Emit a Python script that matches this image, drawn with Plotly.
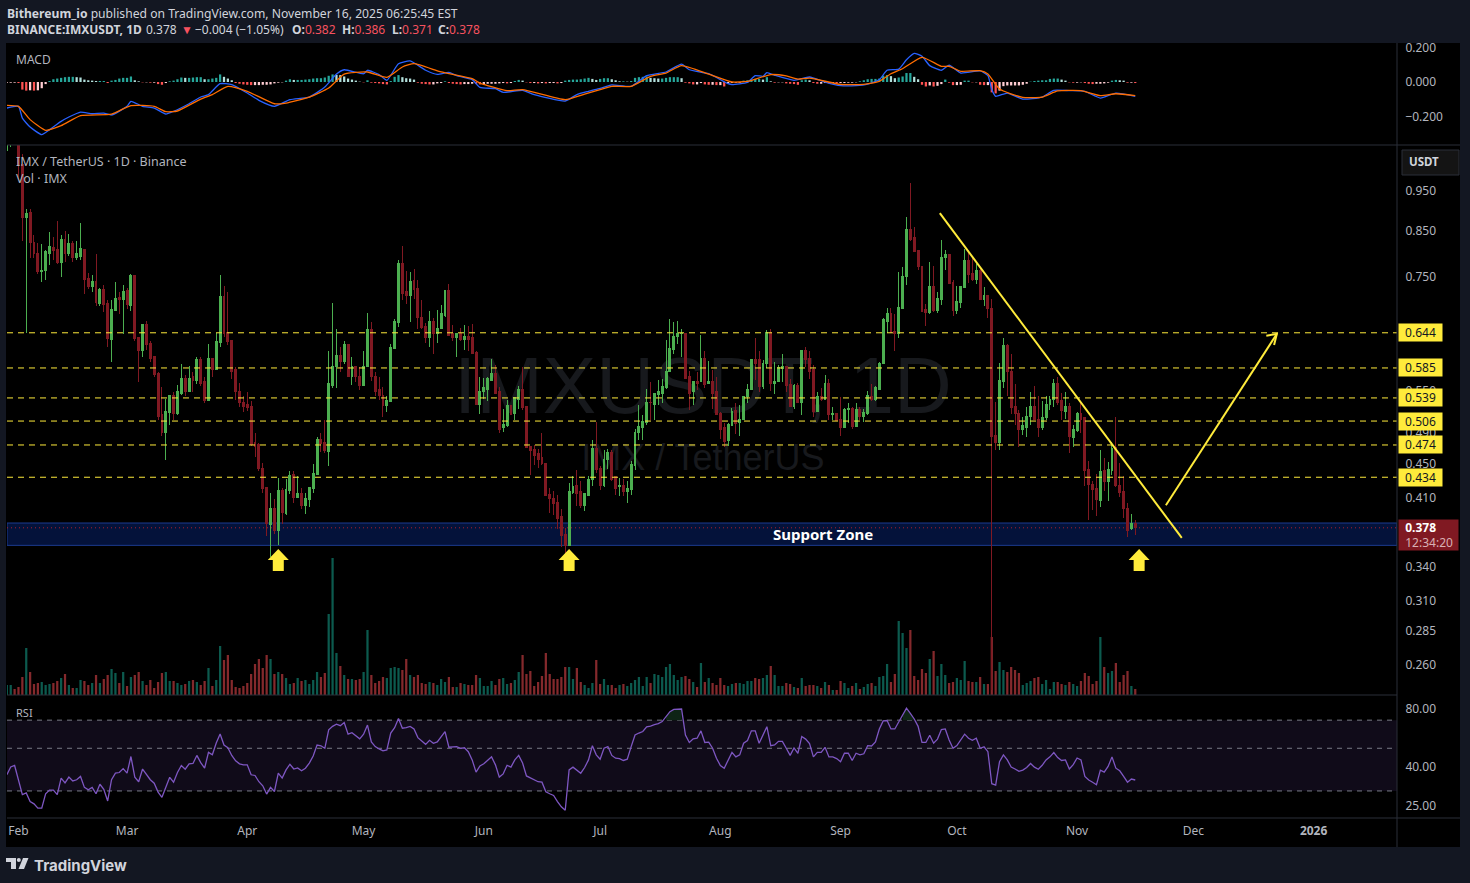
import datetime as dt
import math
import plotly.graph_objects as go

# ---- data (daily candles 2025-01-29 .. 2025-11-16) ----
start_date = dt.date(2025, 1, 29)
opens = [
 1.06,1.09,1.20,1.12,1.02,.883,.894,.825,.800,.761,
 .764,.799,.813,.808,.780,.832,.799,.821,.790,.794,
 .808,.746,.730,.740,.697,.724,.697,.632,.684,.709,
 .705,.722,.693,.753,.635,.613,.658,.625,.603,.577,
 .515,.490,.518,.543,.517,.546,.569,.548,.571,.566,
 .598,.564,.535,.600,.582,.627,.711,.644,.630,.583,
 .549,.533,.529,.526,.477,.474,.445,.422,.381,.398,
 .375,.419,.393,.419,.437,.411,.415,.402,.408,.421,
 .437,.481,.477,.465,.558,.587,.606,.596,.623,.571,
 .587,.572,.558,.587,.649,.572,.551,.543,.528,.534,
 .617,.663,.778,.720,.714,.742,.726,.671,.656,.635,
 .665,.642,.651,.676,.722,.642,.635,.643,.633,.638,
 .635,.610,.530,.548,.552,.566,.577,.548,.497,.500,
 .528,.516,.536,.551,.526,.472,.468,.463,.458,.451,
 .414,.410,.405,.390,.371,.360,.416,.424,.417,.402,
 .413,.431,.469,.444,.424,.456,.464,.435,.423,.424,
 .417,.420,.448,.490,.497,.504,.533,.530,.544,.546,
 .554,.579,.615,.637,.642,.643,.572,.548,.564,.563,
 .600,.560,.563,.549,.516,.497,.480,.500,.521,.504,
 .508,.541,.551,.598,.598,.556,.592,.644,.561,.563,
 .584,.587,.559,.527,.557,.533,.613,.600,.582,.520,
 .541,.536,.561,.515,.516,.508,.497,.522,.523,.499,
 .522,.512,.516,.541,.537,.552,.592,.665,.678,.646,
 .642,.688,.752,.853,.835,.806,.771,.686,.680,.730,
 .684,.705,.791,.797,.738,.684,.699,.728,.784,.758,
 .744,.763,.705,.714,.688,.486,.477,.563,.622,.579,
 .526,.516,.495,.497,.512,.526,.508,.497,.511,.530,
 .537,.560,.535,.519,.526,.484,.493,.516,.511,.443,
 .425,.421,.407,.442,.429,.442,.471,.424,.417,.399,
 .377,.382]
highs = [
 1.12,1.15,1.22,1.15,1.05,.903,.903,.842,.824,.821,
 .808,.848,.837,.875,.842,.851,.843,.828,.828,.870,
 .810,.759,.755,.799,.728,.734,.705,.705,.740,.720,
 .734,.728,.757,.755,.635,.660,.665,.630,.603,.579,
 .555,.537,.543,.548,.558,.592,.574,.588,.579,.603,
 .603,.571,.625,.600,.644,.755,.732,.720,.630,.587,
 .561,.542,.548,.535,.490,.477,.451,.423,.416,.409,
 .433,.421,.432,.441,.441,.435,.421,.416,.422,.450,
 .485,.490,.508,.613,.699,.651,.620,.630,.625,.603,
 .587,.587,.612,.680,.663,.579,.571,.556,.542,.625,
 .669,.786,.817,.763,.761,.767,.744,.705,.661,.684,
 .671,.686,.695,.722,.736,.658,.643,.653,.658,.656,
 .660,.612,.571,.569,.571,.600,.589,.556,.523,.536,
 .528,.540,.557,.587,.526,.472,.474,.469,.490,.451,
 .421,.418,.414,.398,.378,.427,.435,.443,.429,.415,
 .435,.481,.505,.447,.468,.469,.467,.435,.433,.432,
 .430,.454,.495,.529,.514,.552,.563,.546,.566,.568,
 .632,.669,.663,.665,.651,.643,.580,.564,.579,.640,
 .612,.596,.582,.571,.519,.504,.504,.525,.531,.529,
 .541,.560,.600,.635,.612,.598,.649,.651,.595,.590,
 .608,.587,.568,.560,.561,.613,.620,.613,.590,.548,
 .554,.574,.568,.526,.516,.541,.525,.531,.526,.532,
 .526,.523,.549,.560,.557,.595,.671,.690,.690,.678,
 .761,.770,.884,.970,.860,.808,.771,.697,.782,.773,
 .720,.830,.808,.797,.744,.732,.732,.810,.808,.791,
 .777,.770,.730,.714,.706,.533,.593,.635,.625,.608,
 .560,.522,.512,.526,.548,.557,.542,.535,.542,.542,
 .568,.571,.546,.548,.532,.501,.518,.532,.512,.454,
 .429,.438,.467,.458,.453,.478,.512,.451,.436,.404,
 .393,.386]
lows = [
 1.04,1.07,1.13,.98,.828,.644,.790,.790,.756,.740,
 .744,.775,.786,.777,.750,.781,.794,.781,.786,.786,
 .716,.726,.720,.693,.693,.682,.620,.595,.684,.677,
 .642,.688,.684,.630,.563,.603,.615,.595,.571,.508,
 .486,.455,.500,.507,.515,.543,.542,.548,.548,.560,
 .557,.532,.535,.571,.582,.620,.637,.623,.568,.536,
 .526,.519,.520,.473,.459,.441,.416,.370,.349,.372,
 .361,.382,.391,.415,.405,.411,.398,.393,.400,.416,
 .437,.465,.464,.447,.554,.554,.579,.592,.572,.558,
 .563,.551,.558,.587,.564,.542,.536,.511,.519,.534,
 .617,.654,.705,.697,.663,.707,.651,.651,.627,.620,
 .608,.626,.651,.672,.638,.630,.603,.630,.615,.613,
 .608,.529,.516,.537,.534,.566,.545,.490,.491,.498,
 .515,.508,.523,.522,.471,.437,.449,.445,.449,.413,
 .394,.392,.377,.359,.337,.360,.415,.401,.399,.396,
 .413,.424,.439,.419,.423,.444,.429,.413,.412,.412,
 .405,.413,.443,.481,.480,.501,.507,.507,.529,.532,
 .552,.579,.608,.625,.603,.569,.522,.528,.551,.563,
 .554,.560,.523,.515,.482,.472,.473,.499,.488,.486,
 .508,.532,.551,.566,.548,.553,.585,.549,.545,.563,
 .563,.548,.526,.523,.531,.515,.587,.568,.512,.520,
 .534,.536,.508,.507,.507,.486,.497,.504,.495,.499,
 .508,.505,.515,.534,.534,.551,.592,.644,.644,.612,
 .635,.688,.734,.828,.804,.765,.682,.656,.678,.682,
 .680,.695,.765,.736,.674,.678,.690,.728,.738,.742,
 .736,.705,.692,.671,.243,.467,.468,.554,.542,.516,
 .501,.472,.487,.485,.500,.508,.485,.494,.508,.522,
 .526,.529,.508,.509,.464,.472,.491,.490,.424,.386,
 .397,.390,.400,.418,.407,.437,.423,.411,.388,.369,
 .376,.371]
closes = [
 1.10,1.12,1.14,1.02,.883,.892,.824,.799,.761,.763,
 .804,.815,.806,.780,.832,.799,.821,.790,.799,.810,
 .745,.730,.740,.699,.724,.695,.634,.686,.707,.705,
 .720,.695,.753,.634,.613,.658,.623,.601,.575,.513,
 .490,.519,.543,.517,.549,.569,.549,.569,.566,.598,
 .561,.535,.600,.582,.628,.711,.642,.628,.580,.549,
 .532,.527,.525,.474,.472,.444,.421,.382,.398,.375,
 .419,.394,.420,.436,.411,.415,.402,.409,.422,.439,
 .481,.476,.467,.560,.587,.606,.596,.623,.572,.587,
 .571,.558,.587,.649,.572,.549,.542,.528,.535,.618,
 .665,.778,.716,.714,.740,.724,.671,.654,.635,.665,
 .642,.651,.678,.722,.640,.635,.643,.632,.638,.633,
 .608,.530,.549,.554,.568,.577,.546,.495,.501,.528,
 .515,.539,.551,.525,.471,.467,.461,.456,.450,.413,
 .410,.404,.388,.370,.360,.417,.423,.415,.402,.415,
 .431,.469,.443,.424,.456,.464,.431,.421,.424,.417,
 .421,.449,.491,.498,.505,.533,.532,.545,.548,.556,
 .580,.617,.637,.642,.643,.569,.546,.564,.561,.600,
 .559,.563,.546,.515,.495,.478,.501,.519,.503,.508,
 .541,.552,.598,.592,.556,.592,.644,.561,.564,.585,
 .587,.557,.527,.557,.533,.613,.598,.580,.520,.541,
 .536,.561,.515,.516,.507,.497,.522,.523,.499,.522,
 .512,.518,.543,.536,.554,.592,.667,.678,.644,.642,
 .690,.752,.853,.830,.804,.771,.682,.680,.730,.684,
 .707,.791,.797,.736,.684,.701,.730,.784,.756,.744,
 .763,.705,.714,.688,.485,.477,.566,.622,.579,.525,
 .516,.495,.500,.512,.526,.508,.497,.511,.530,.537,
 .560,.533,.521,.526,.485,.495,.516,.508,.442,.425,
 .420,.408,.441,.429,.443,.469,.424,.416,.398,.375,
 .382,.378]
volumes = [
 10,10,6,8,18,47,23,11,12,13,
 10,11,12,14,17,21,10,7,7,15,
 14,10,12,20,12,16,20,26,22,12,
 23,9,18,20,23,14,10,15,7,13,
 22,23,14,14,12,10,11,14,15,13,
 10,14,27,9,15,49,35,40,15,8,
 7,9,12,21,31,36,27,40,36,21,
 23,21,17,11,12,17,14,15,11,15,
 23,18,22,81,137,42,29,20,16,16,
 15,16,23,65,20,12,14,18,17,27,
 28,27,25,36,20,18,20,12,11,13,
 12,10,16,13,18,8,8,12,11,10,
 10,20,17,9,9,14,10,16,17,11,
 12,15,23,40,21,24,9,13,19,42,
 21,16,16,18,28,28,16,27,13,10,
 7,12,35,11,16,10,10,7,10,11,
 9,12,15,18,9,18,12,21,20,18,
 28,31,20,15,18,19,16,13,8,32,
 13,17,12,10,17,10,9,11,12,12,
 11,14,14,17,16,17,20,29,20,9,
 9,12,11,8,7,17,9,10,10,9,
 7,13,10,5,5,14,12,7,9,12,
 6,8,11,12,9,18,19,31,13,21,
 74,62,47,65,19,15,26,22,36,44,
 19,31,20,12,13,17,15,34,14,13,
 13,18,11,11,58,24,33,25,23,28,
 25,22,10,12,14,17,18,11,15,6,
 13,13,11,10,13,11,9,14,22,19,
 11,14,58,28,22,24,32,13,20,24,
 9,6]
rsi_values = [
 36.4,40,40.7,34.3,28.7,29.3,26.4,25.7,24.4,24.4,
 29,30.3,30.3,28.7,35,33,35.4,33.8,34.3,35.7,
 31.3,30.4,31.3,29,32.5,30.6,26.6,34.3,37.1,37.4,
 39.2,37.1,45.3,35.4,33.5,39,36.8,34.3,32.9,29.6,
 27.8,31,35.3,33.3,37.4,40.7,38.9,41.5,41.7,45.9,
 42.1,39.4,47.6,46.3,53.3,59.3,52,50.3,45.9,43,
 41.5,41,41,36.4,36.1,33.5,31.9,28.9,31.3,29.8,
 37.1,35,38.6,41.3,39,39.5,38.2,39.4,41.9,45.6,
 52,51.5,50,62.3,65,66.7,65.5,68,59.2,60.3,
 58,56,59.2,66,54,51,49.6,48.5,49,60,
 64,71.5,63.6,64,65,63,56.8,54.3,52.4,55,
 53.1,54,57,61,50.6,50.6,51,50,50.3,48,
 43.5,37.6,40.5,41.5,43.5,45.1,41,35.4,36.8,40.8,
 39.9,43.5,45.9,41.9,35.9,35,34.3,33.5,33.3,29.7,
 29,28.4,26.4,24.8,23.8,38.6,39.9,38.6,37.1,39.7,
 43.5,51.6,46.2,43.9,50,51,45.9,44.4,44.2,43.2,
 43.9,51,58.6,60,61.1,64.7,65.2,66.4,67.2,68.8,
 73.5,77.5,79.7,80,80,58.6,53.6,56,56.4,61.6,
 53.6,53.8,50,44.4,40.7,39.4,43.5,47.6,45.1,46.2,
 53.1,54.8,61.6,61.6,53.1,58.2,64.7,51.6,52,54.3,
 54.3,50,45.9,50.2,47.1,57.6,55.8,52.9,45.1,47.6,
 47.6,50.6,45.1,45.1,44.2,42.6,47.1,47.1,43.2,47.1,
 46.2,46.8,51.6,51.4,54,63,69.4,69.7,63,63,
 68.8,75,80.8,76,71,65,53.6,53.6,58.4,53.1,
 55.8,62.6,63,55.2,50,51.6,55.2,59.2,56.4,55,
 56.4,50,50.9,48,32.7,32.2,42.6,46.2,43.5,39.9,
 39,37.9,38.5,39.7,41.7,39.9,38.9,40.8,43.5,45.1,
 47.5,44.7,43.2,43.5,39,41.1,44.5,43.5,35.7,34.2,
 33.3,32.3,38.5,37.6,40.2,45.1,39.4,38.2,35.7,33.3,
 34.6,34.2]
# MACD histogram, thousandths
macd_hist_milli = [
 -4,-4,-4,-6,-44,-50,-48,-50,-48,-36,-12,6,16,20,24,28,30,30,28,26,
 14,10,8,6,6,6,-6,8,12,20,24,24,32,10,4,-2,-2,-4,-4,-12,
 -16,-6,4,8,16,26,24,24,26,28,28,16,16,20,24,44,30,20,10,-6,
 -10,-14,-16,-18,-18,-18,-16,-16,-14,-8,-4,-2,8,16,12,12,12,14,16,20,
 22,22,26,36,44,42,40,32,20,14,8,2,-2,10,-4,-6,-8,-12,-14,6,
 30,40,28,22,20,14,-4,-10,-12,-14,-14,-8,-6,4,-6,-10,-12,-14,-12,-12,
 -10,-12,-14,-12,-10,-10,-10,-8,-6,-8,-6,6,12,8,-2,-6,-6,-8,-6,-8,
 -6,-6,-8,-6,8,12,14,14,16,20,24,18,12,
 18,22,22,16,10,4,4,2,6,24,
 28,30,32,24,22,20,20,24,28,28,
 28,22,-4,-8,-14,-14,-6,-14,-16,-16,
 -18,-18,-26,-10,-6,-4,-4,8,10,14,
 18,18,14,28,4,-4,-2,-2,-8,-10,
 -12,-16,10,14,10,-6,-10,-10,-6,-8,
 -6,-8,-6,-6,-4,-4,-2,4,10,16,
 18,18,20,36,40,34,22,26,32,52,
 52,30,16,-16,-26,-20,-26,-22,-12,14,
 -4,-18,-18,-16,8,8,-2,-2,-16,-18,
 -18,-60,-66,-50,-24,-20,-20,-20,-20,-16,
 -10,2,6,8,10,10,18,20,20,14,
 8,-2,-4,-4,-2,-6,-10,-12,-10,-10,
 -8,-4,8,12,10,8,-4,-4,-6]
# MACD and signal lines, read at the days where the curve bends (day number from Feb 1)
macd_days = [-3,0,1,3,6,8,11,13,16,19,22,24,28,29,32,35,38,40,44,47,49,52,55,59,62,66,70,75,79,82,84,89,90,93,95,98,101,105,108,111,113,117,119,123,125,130,133,141,144,147,
 150,153,158,162,167,171,173,178,183,184,188,190,192,193,195,200,204,208,212,216,219,222,224,227,229,231,233,235,238,240,243,248,250,251,252,255,259,264,267,271,275,279,283,288]
macd_line = [-.151,-.141,-.209,-.261,-.305,-.276,-.228,-.203,-.174,-.184,-.18,-.191,-.141,-.112,-.141,-.151,-.186,-.17,-.126,-.087,-.073,-.01,-.015,-.064,-.106,-.141,-.102,-.087,-.029,.046,.071,.048,.068,.043,.01,.106,.122,.068,.044,.056,.037,.014,-.031,-.039,-.06,-.048,-.073,-.11,-.073,-.054,
 -.037,-.017,-.025,.037,.058,.104,.071,.048,-.01,-.015,-.002,.037,.033,.054,.039,.01,.029,0,-.021,-.021,-.012,.014,.068,.075,.129,.166,.149,.095,.068,.097,.052,.064,.037,-.044,-.083,-.064,-.099,-.087,-.048,-.05,-.054,-.093,-.064,-.083]
signal_days = [-3,0,3,7,11,16,24,29,35,38,41,47,50,54,59,66,69,75,80,84,90,95,99,102,109,117,119,126,130,141,146,
 150,153,158,163,167,171,178,184,188,194,198,201,204,212,218,222,225,228,233,238,240,243,248,250,253,259,264,268,274,279,283,288]
signal_line = [-.135,-.141,-.218,-.28,-.253,-.195,-.186,-.137,-.141,-.172,-.168,-.099,-.073,-.025,-.054,-.126,-.122,-.087,-.035,.046,.058,.027,.087,.106,.058,.019,-.006,-.05,-.044,-.102,-.07,
 -.044,-.025,-.025,.033,.052,.095,.046,0,.004,.043,.035,.017,.023,-.014,-.014,.004,.048,.077,.143,.091,.091,.062,.066,.046,-.041,-.089,-.087,-.052,-.05,-.079,-.068,-.079]
price_levels = [0.644, 0.585, 0.539, 0.506, 0.474, 0.434]
level_labels = ["0.644", "0.585", "0.539", "0.506", "0.474", "0.434"]
price_ticks = [0.95, 0.85, 0.75, 0.55, 0.49, 0.45, 0.41, 0.34, 0.31, 0.285, 0.26]
price_tick_text = ["0.950", "0.850", "0.750", "0.550", "0.490", "0.450", "0.410", "0.340", "0.310", "0.285", "0.260"]
macd_ticks = [0.2, 0, -0.2]
macd_tick_text = ["0.200", "0.000", "\u22120.200"]
rsi_ticks = [80, 40, 25]
rsi_tick_text = ["80.00", "40.00", "25.00"]
month_ticks = ["2025-02-01","2025-03-01","2025-04-01","2025-05-01","2025-06-01","2025-07-01","2025-08-01","2025-09-01","2025-10-01","2025-11-01","2025-12-01","2026-01-01"]
month_text = ["Feb","Mar","Apr","May","Jun","Jul","Aug","Sep","Oct","Nov","Dec","<b>2026</b>"]
support_low, support_high = 0.3603, 0.383
last_price = 0.378
trend_days = [237.6, 300.0]
trend_prices = [0.893, 0.3677]
target_days = [295.9, 324.5]
target_prices = [0.402, 0.642]
head_days = [321.8, 324.5, 323.8]
head_prices = [0.639, 0.642, 0.623]
arrow_days = [67, 142, 289]

# ---- helpers ----
W, H = 1470, 883
FONT = "Noto Sans"
GREY = "#b2b5be"
YEL = "#ffeb3b"
def fx(px): return px / W
def fy(py): return 1 - py / H
dates = [start_date + dt.timedelta(days=i) for i in range(len(opens))]
def day(d):
    return (dt.datetime(2025, 2, 1) + dt.timedelta(days=float(d))).strftime("%Y-%m-%d %H:%M")
LEFT, RIGHT = day(-2.96), day(355.5)
full_x = [LEFT, RIGHT]

fig = go.Figure()

# layer 1: under the candles
fig.add_trace(go.Scatter(x=[day(176.5)], y=[0.5466], mode="text", text=["IMXUSDT, 1D"], yaxis="y",
    textfont=dict(family="Liberation Sans", size=80, color="#17191d"), cliponaxis=False))
fig.add_trace(go.Scatter(x=[day(176.5)], y=[0.4543], mode="text", text=["IMX / TetherUS"], yaxis="y",
    textfont=dict(family="Liberation Sans", size=36, color="#17191d"), cliponaxis=False))
fig.add_trace(go.Scatter(x=[LEFT, RIGHT, RIGHT, LEFT, LEFT], yaxis="y",
    y=[support_low, support_low, support_high, support_high, support_low],
    mode="lines", fill="toself", fillcolor="#04123a", line=dict(color="#1b3a8f", width=1)))
fig.add_trace(go.Scatter(x=full_x, y=[last_price, last_price], mode="lines", yaxis="y",
    line=dict(color="#a8202e", width=1, dash="1px,3px")))

# layer 2: volume
fig.add_trace(go.Bar(x=dates, y=volumes, yaxis="y2",
    marker=dict(color=["#0c5a4e" if c >= o else "#84292c" for o, c in zip(opens, closes)], line=dict(width=0))))

# layer 3: price
fig.add_trace(go.Candlestick(x=dates, open=opens, high=highs, low=lows, close=closes, yaxis="y3",
    whiskerwidth=0,
    increasing=dict(line=dict(color="#4caf50", width=1), fillcolor="#4caf50"),
    decreasing=dict(line=dict(color="#801922", width=1), fillcolor="#801922")))
for lv in price_levels:
    fig.add_trace(go.Scatter(x=full_x, y=[lv, lv], mode="lines", yaxis="y3",
        line=dict(color=YEL, width=1, dash="6px,5px")))
fig.add_trace(go.Scatter(x=[day(d) for d in trend_days], y=trend_prices, mode="lines", yaxis="y3",
    line=dict(color=YEL, width=2)))
fig.add_trace(go.Scatter(x=[day(d) for d in target_days], y=target_prices, mode="lines", yaxis="y3",
    line=dict(color=YEL, width=2)))
fig.add_trace(go.Scatter(x=[day(d) for d in head_days], y=head_prices, mode="lines", yaxis="y3",
    line=dict(color=YEL, width=2)))

# MACD pane
hist = [v / 1000 for v in macd_hist_milli]
hist_colors = []
for i, v in enumerate(hist):
    prev = hist[i - 1] if i else v
    if v >= 0:
        hist_colors.append("#26a69a" if v >= prev else "#b2dfdb")
    else:
        hist_colors.append("#ffcdd2" if v >= prev else "#ff5252")
fig.add_trace(go.Bar(x=dates[:len(hist)], y=hist, yaxis="y4", marker=dict(color=hist_colors, line=dict(width=0))))
fig.add_trace(go.Scatter(x=[day(d) for d in macd_days], y=macd_line, mode="lines", yaxis="y4",
    line=dict(color="#2962ff", width=1.3, shape="spline", smoothing=0.5)))
fig.add_trace(go.Scatter(x=[day(d) for d in signal_days], y=signal_line, mode="lines", yaxis="y4",
    line=dict(color="#ff6d00", width=1.3, shape="spline", smoothing=0.5)))

# RSI pane
fig.add_trace(go.Scatter(x=[LEFT, RIGHT, RIGHT, LEFT, LEFT], y=[30, 30, 70, 70, 30], mode="lines", yaxis="y5",
    fill="toself", fillcolor="rgba(126,87,194,0.13)", line=dict(width=0)))
for lv in (70, 50, 30):
    fig.add_trace(go.Scatter(x=full_x, y=[lv, lv], mode="lines", yaxis="y5",
        line=dict(color="#787b86", width=1, dash="5px,5px")))
run = []
for i, v in enumerate(rsi_values + [0]):
    if v > 70:
        run.append(i)
    elif len(run) > 1:
        xs = [dates[j] for j in run]
        ys = [rsi_values[j] for j in run]
        fig.add_trace(go.Scatter(x=xs + xs[::-1], y=ys + [70] * len(ys), mode="lines", yaxis="y5",
            fill="toself", fillcolor="#0e2416", line=dict(width=0)))
        run = []
    else:
        run = []
fig.add_trace(go.Scatter(x=dates, y=rsi_values, mode="lines", yaxis="y5", line=dict(color="#7e57c2", width=1.3)))

# ---- annotations ----
def text(x, y, s, size=12, color=GREY, anchor="left", family=FONT):
    return dict(xref="paper", yref="paper", x=fx(x), y=fy(y), text=s, showarrow=False, xanchor=anchor, yanchor="middle",
                font=dict(family=family, size=size, color=color), align="left", borderpad=0)
RED = "#f7525f"
LBL = "#d1d4dc"
def red(s): return f'<span style="color:{RED}">{s}</span>'
anns = [
    text(6, 13, "<b>Bithereum_io</b> published on TradingView.com, November 16, 2025 06:25:45 EST", 12.15, LBL),
    text(6, 30, "<b>BINANCE:IMXUSDT, 1D</b>", 12, LBL),
    text(145, 30, "0.378", 12, LBL),
    text(180, 30, red("\u25bc"), 12, LBL),
    text(194, 30, "\u22120.004 (\u22121.05%)", 12, LBL),
    text(291, 30, "<b>O:</b>" + red("0.382"), 12, LBL),
    text(341, 30, "<b>H:</b>" + red("0.386"), 12, LBL),
    text(391, 30, "<b>L:</b>" + red("0.371"), 12, LBL),
    text(437, 30, "<b>C:</b>" + red("0.378"), 12, LBL),
    text(15, 60, "MACD", 12),
    text(15, 161, "IMX / TetherUS \u00b7 1D \u00b7 Binance", 12.5),
    text(15, 178, "Vol \u00b7 IMX", 12.5),
    text(15, 712, "RSI", 11),
    text(1424, 162, "<b>USDT</b>", 11.5, LBL, "center"),
    text(33, 865, "<b>TradingView</b>", 15, LBL, family="Inter"),
    dict(xref="x", yref="y3", x=day(207.5), y=math.log10(0.3715), text="<b>Support Zone</b>", showarrow=False,
         font=dict(family=FONT, size=15, color="#ffffff")),
]
for lv, lab in zip(price_levels, level_labels):
    anns.append(dict(xref="paper", yref="y3", x=fx(1398), y=math.log10(lv), xanchor="left", yanchor="middle", text=lab,
        showarrow=False, width=43, height=17, bgcolor=YEL, borderpad=0, align="center",
        font=dict(family=FONT, size=12, color="#131722")))
anns.append(dict(xref="paper", yref="paper", x=fx(1398), y=fy(535), xanchor="left", yanchor="middle",
    text='&nbsp;&nbsp;<b>0.378</b><br>&nbsp;&nbsp;<span style="color:#d8b0b4">12:34:20</span>', showarrow=False, width=59, height=30,
    bgcolor="#801922", borderpad=0, align="left", font=dict(family=FONT, size=12, color="#ffffff")))

# ---- frame and decorations ----
def rect(x0, y0, x1, y1, **kw):
    return dict(type="rect", xref="paper", yref="paper", x0=fx(x0), x1=fx(x1), y0=fy(y0), y1=fy(y1), **kw)
def hline(x0, x1, y):
    return dict(type="line", xref="paper", yref="paper", x0=fx(x0), x1=fx(x1), y0=fy(y), y1=fy(y), line=dict(color="#2a2e39", width=1))
def poly(points, color):
    d = "M" + " L".join(f"{fx(a):.5f},{fy(b):.5f}" for a, b in points) + " Z"
    return dict(type="path", xref="paper", yref="paper", path=d, fillcolor=color, line=dict(width=0))
shapes = [
    rect(6, 43, 1460, 847, fillcolor="#000000", line=dict(width=0), layer="below"),
    hline(7, 1460, 145), hline(7, 1397, 695), hline(7, 1460, 818),
    dict(type="line", xref="paper", yref="paper", x0=fx(1397), x1=fx(1397), y0=fy(43), y1=fy(847), line=dict(color="#2a2e39", width=1)),
    rect(1402, 150, 1459, 175, fillcolor="#141414", line=dict(color="#2a2e39", width=1)),
    poly([(6, 858), (16, 858), (16, 869), (11, 869), (11, 862), (6, 862)], LBL),
    poly([(23, 858), (28.5, 858), (24, 869), (18.5, 869)], LBL),
    dict(type="circle", xref="paper", yref="paper", x0=fx(16.8), x1=fx(20.8), y0=fy(862), y1=fy(858), fillcolor=LBL, line=dict(width=0)),
]
arrow_path = "M0,22 L10.5,11 L5.5,11 L5.5,0 L-5.5,0 L-5.5,11 L-10.5,11 Z"
for d in arrow_days:
    shapes.append(dict(type="path", xsizemode="pixel", ysizemode="pixel", xref="x", yref="paper",
        xanchor=day(d), yanchor=fy(571), path=arrow_path, fillcolor=YEL, line=dict(width=0)))

log = math.log10
hidden = dict(visible=False, fixedrange=True)
tickstyle = dict(side="right", ticks="outside", ticklen=5, tickcolor="rgba(0,0,0,0)", showgrid=False, zeroline=False,
                 showline=False, tickfont=dict(family=FONT, size=12, color=GREY), anchor="x", tickmode="array")
fig.update_layout(
    width=W, height=H, margin=dict(l=0, r=0, t=0, b=0, autoexpand=False), paper_bgcolor="#131722", plot_bgcolor="rgba(0,0,0,0)",
    showlegend=False, hovermode=False, bargap=0.42, barmode="overlay", annotations=anns, shapes=shapes,
    xaxis=dict(type="date", domain=[fx(7), fx(1397)], range=[LEFT, RIGHT], anchor="y5", tickmode="array", tickvals=month_ticks,
        ticktext=month_text, showgrid=False, zeroline=False, showline=False, ticks="outside", ticklen=2, tickcolor="rgba(0,0,0,0)",
        tickfont=dict(family=FONT, size=12, color=GREY), rangeslider=dict(visible=False)),
    yaxis=dict(type="log", domain=[fy(695), fy(145)], range=[log(0.2394), log(1.0757)], anchor="x", **hidden),
    yaxis2=dict(domain=[fy(695), fy(555)], range=[0, 140], anchor="x", **hidden),
    yaxis3=dict(type="log", domain=[fy(695), fy(145)], range=[log(0.2394), log(1.0757)], tickvals=price_ticks, ticktext=price_tick_text, **tickstyle),
    yaxis4=dict(domain=[fy(145), fy(43)], range=[-0.365, 0.226], tickvals=macd_ticks, ticktext=macd_tick_text, **tickstyle),
    yaxis5=dict(type="log", domain=[fy(818), fy(695)], range=[log(21.7), log(94.6)], tickvals=rsi_ticks, ticktext=rsi_tick_text, **tickstyle),
)
fig.write_html("out.html", config=dict(displayModeBar=False, staticPlot=True),
    post_script="document.body.style.margin='0';document.body.style.background='#131722';document.body.style.overflow='hidden';"
                "document.querySelectorAll('.boxes path').forEach(function(p){p.style.shapeRendering='crispEdges';});")
